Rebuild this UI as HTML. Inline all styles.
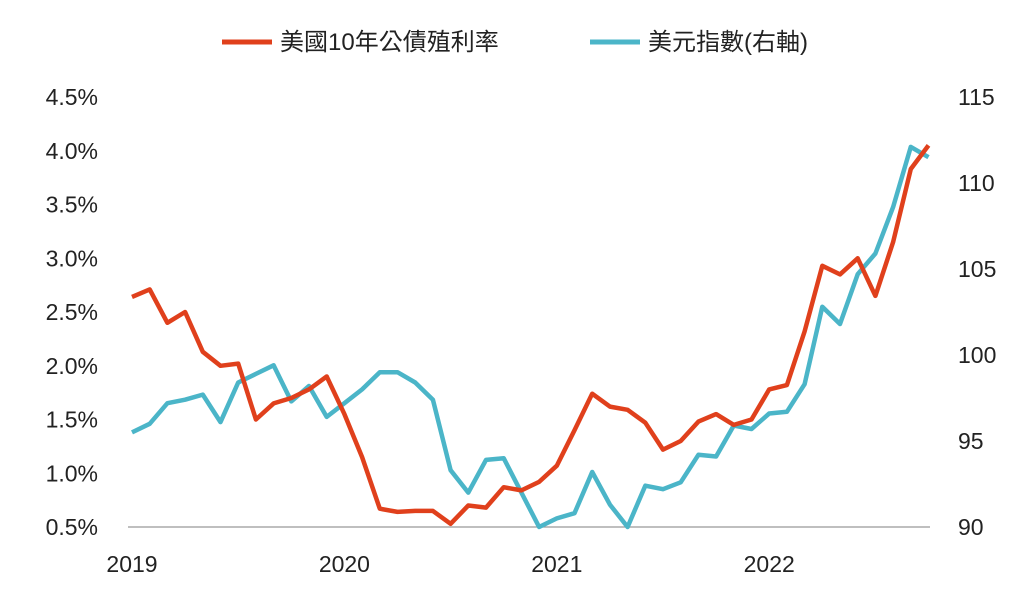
<!DOCTYPE html>
<html><head><meta charset="utf-8"><style>
body{margin:0;background:#fff;}
svg text{font-family:"Liberation Sans","Noto Sans CJK TC",sans-serif;fill:#222;}
</style></head><body>
<svg width="1024" height="605" viewBox="0 0 1024 605" xmlns="http://www.w3.org/2000/svg">
<g>
<line x1="222" y1="42" x2="272" y2="42" stroke="#e0401c" stroke-width="5"/>
<text x="280" y="50" font-size="24">美國10年公債殖利率</text>
<line x1="590" y1="42" x2="640" y2="42" stroke="#4bb5c8" stroke-width="5"/>
<text x="648" y="50" font-size="24">美元指數(右軸)</text>
</g>
<g id="axes"></g>
<g id="series"></g>
</svg>
<script>
const leftTicks=[0.5,1.0,1.5,2.0,2.5,3.0,3.5,4.0,4.5];
const rightTicks=[90,95,100,105,110,115];
const yearLabels=["2019","2020","2021","2022"];
const yieldVals=[2.64,2.71,2.40,2.50,2.13,2.00,2.02,1.50,1.65,1.70,1.78,1.90,1.55,1.15,0.67,0.64,0.65,0.65,0.53,0.70,0.68,0.87,0.84,0.92,1.07,1.40,1.74,1.62,1.59,1.47,1.22,1.30,1.48,1.55,1.45,1.50,1.78,1.82,2.32,2.93,2.85,3.00,2.65,3.15,3.83,4.05];
const dxyVals=[95.5,96.0,97.2,97.4,97.7,96.1,98.4,98.9,99.4,97.3,98.2,96.4,97.2,98.0,99.0,99.0,98.4,97.4,93.3,92.0,93.9,94.0,92.0,90.0,90.5,90.8,93.2,91.3,90.0,92.4,92.2,92.6,94.2,94.1,95.9,95.7,96.6,96.7,98.3,102.8,101.8,104.7,105.9,108.6,112.1,111.5];
const NS="http://www.w3.org/2000/svg";
const x0=132,monthW=17.7;
const xM=i=>x0+i*monthW;
const yL=v=>527-(v-0.5)*107.5;
const yR=v=>527-(v-90)*17.2;
const axes=document.getElementById('axes'),series=document.getElementById('series');
function mk(tag,attrs,parent,txt){const e=document.createElementNS(NS,tag);for(const k in attrs)e.setAttribute(k,attrs[k]);if(txt!==undefined)e.textContent=txt;parent.appendChild(e);return e;}
const base=mk('line',{x1:128,y1:527,x2:930,y2:527,stroke:'#999','stroke-width':1.2},axes);


leftTicks.forEach(v=>{const t=mk('text',{x:98,y:yL(v)+8,'font-size':23,'text-anchor':'end'},axes,v.toFixed(1)+'%');

});
rightTicks.forEach(v=>{const t=mk('text',{x:958,y:yR(v)+8,'font-size':23},axes,String(v));

});
yearLabels.forEach((l,i)=>{const x=xM(i*12);
const t=mk('text',{x:x,y:572,'font-size':23,'text-anchor':'middle'},axes,l);

});
const pd=dxyVals.map((v,i)=>(i?'L':'M')+xM(i).toFixed(1)+','+yR(v).toFixed(1)).join('');
const pb=mk('path',{d:pd,fill:'none',stroke:'#4bb5c8','stroke-width':4.5,'stroke-linejoin':'round'},series);


const py=yieldVals.map((v,i)=>(i?'L':'M')+xM(i).toFixed(1)+','+yL(v).toFixed(1)).join('');
const pr=mk('path',{d:py,fill:'none',stroke:'#e0401c','stroke-width':4.5,'stroke-linejoin':'round'},series);


</script>
</body></html>
